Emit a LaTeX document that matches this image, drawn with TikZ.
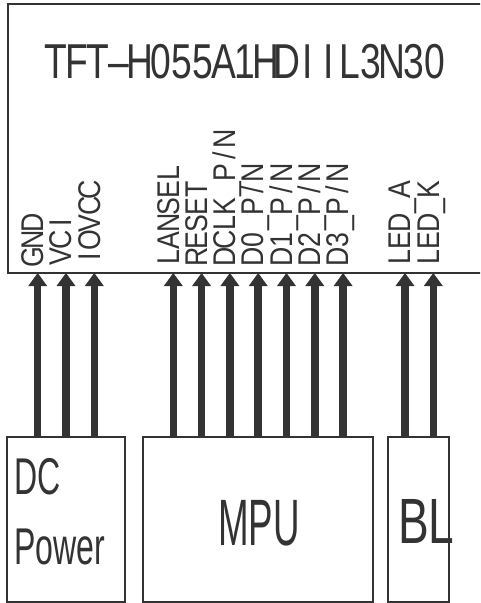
\documentclass[tikz,border=0pt]{standalone}
\usepackage{fontspec}
\setmainfont{Liberation Sans}
\newfontfamily\pinfont[FakeStretch=0.85]{Liberation Sans}
\newfontfamily\titlefont[FakeStretch=0.76]{Liberation Sans}
\usetikzlibrary{arrows.meta,positioning}
\definecolor{ink}{HTML}{333333}
% text set in fixed-pitch cells
\newcommand\cellrow[2]{\def\cellw{#1}\expandafter\cellrowA#2\relax}
\def\cellrowA#1{\ifx#1\relax\else\makebox[\cellw][c]{#1}\expandafter\cellrowA\fi}
\tikzset{
  panel/.style={draw=ink, line width=2pt, inner sep=0pt},
  block/.style={draw=ink, line width=2pt, inner sep=0pt, minimum height=164.5pt},
  bigtxt/.style={text=ink, inner sep=0pt, text depth=0pt},
  pinarrow/.style={draw=ink, line width=7.5pt,
                   -{Triangle[width=19pt,length=13pt,line width=0pt]}},
  pinlab/.style={rotate=90, anchor=west, inner sep=0pt, text=ink,
                 font=\pinfont\fontsize{31.4}{33}\selectfont,
                 text height=22.5pt, text depth=0pt},
}

\begin{document}
\begin{tikzpicture}[x=1pt, y=-1pt]
\clip (0,0) rectangle (480,603);

% display module
\node[panel, minimum width=500pt, minimum height=269pt] (lcd) at (257.5,138.5) {};
\node[bigtxt, text height=35pt, font=\titlefont\fontsize{49}{52}\selectfont]
  (title) at (245,60.8) {\cellrow{21.05pt}{TFT–H055A1HDIIL3N30}};

% sources
\node[block, minimum width=118pt] (dcpow) at (66,519.25) {};
\node[block, minimum width=230pt] (mpu) at (258,519.25) {};
\node[block, minimum width=61pt] (bl) at (418.5,519.25) {};

\node[bigtxt, xscale=0.62, anchor=north west, align=left,
      font=\fontsize{51.7}{70}\selectfont] (dctxt) at (14,458) {DC\\Power};
\node[bigtxt, xscale=0.56, text height=47pt, font=\fontsize{65.6}{70}\selectfont]
  (mputxt) at (259,521.5) {MPU};
\node[bigtxt, xscale=0.72, text height=46pt, font=\fontsize{64}{70}\selectfont]
  (bltxt) at (426.4,520) {BL};

% pins
\foreach \px/\pname/\src [count=\i] in {37.7/GND/dcpow, 66/VCI/dcpow,
    94.3/IOVCC/dcpow, 173.3/LANSEL/mpu, 201.6/RESET/mpu,
    229.9/{DCLK\_P/N}/mpu, 258.2/{D0\_P/N}/mpu, 286.5/{D1\_P/N}/mpu,
    314.8/{D2\_P/N}/mpu, 343.1/{D3\_P/N}/mpu, 405/{LED\_A}/bl,
    433.3/{LED\_K}/bl} {
  \coordinate (pin\i) at (\px,273);
  \node[pinlab] (lab\i) at ([xshift=-5.5pt, yshift=7.3pt] pin\i)
    {\cellrow{16.9pt}{\pname}};
  \draw[pinarrow] (pin\i |- \src.north) -- (pin\i);
}

\end{tikzpicture}
\end{document}
